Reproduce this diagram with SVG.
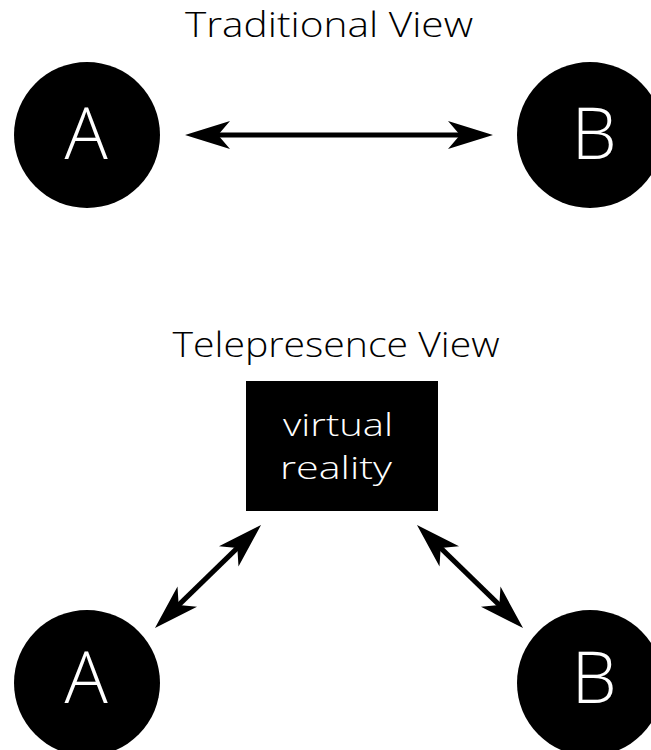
<svg xmlns="http://www.w3.org/2000/svg" width="651" height="750" viewBox="0 0 651 750">
<defs>
<style>
.node{fill:#000}
.lbl{fill:#fff;font-family:"Open Sans","Liberation Sans",sans-serif;font-weight:300;text-anchor:middle}
.title{fill:#000;font-family:"Open Sans","Liberation Sans",sans-serif;font-weight:300;font-size:34px;text-anchor:middle}
.conn{stroke:#000;stroke-width:5;fill:none}
</style>
<marker id="ah" markerUnits="userSpaceOnUse" markerWidth="50" markerHeight="32" viewBox="-16 -16 50 32" refX="0" refY="0" orient="auto-start-reverse">
<path d="M30,0 L-15,-14 L-3,0 L-15,14 Z" fill="#000"/>
</marker>
</defs>
<rect width="651" height="750" fill="#fff"/>
<text class="title" x="329" y="37" textLength="288" lengthAdjust="spacingAndGlyphs">Traditional View</text>
<text class="title" x="336" y="357" textLength="327" lengthAdjust="spacingAndGlyphs">Telepresence View</text>
<g id="connectors">
<line class="conn" x1="215" y1="135" x2="463" y2="135" marker-start="url(#ah)" marker-end="url(#ah)"/>
<line class="conn" x1="239.5" y1="545.9" x2="176.5" y2="607.1" marker-start="url(#ah)" marker-end="url(#ah)"/>
<line class="conn" x1="438.5" y1="545.9" x2="501.5" y2="607.1" marker-start="url(#ah)" marker-end="url(#ah)"/>
</g>
<g id="nodeA1"><circle class="node" cx="87" cy="135" r="73"/><text class="lbl" x="86" y="159" font-size="72">A</text></g>
<g id="nodeB1"><circle class="node" cx="590" cy="135" r="73"/><text class="lbl" x="594" y="159" font-size="72">B</text></g>
<g id="nodeVR"><rect class="node" x="246" y="381" width="192" height="130"/><text class="lbl" x="338" y="436" font-size="32" textLength="110" lengthAdjust="spacingAndGlyphs">virtual</text><text class="lbl" x="336" y="479" font-size="32" textLength="112" lengthAdjust="spacingAndGlyphs">reality</text></g>
<g id="nodeA2"><circle class="node" cx="87" cy="683" r="73"/><text class="lbl" x="86" y="703" font-size="72">A</text></g>
<g id="nodeB2"><circle class="node" cx="590" cy="683" r="73"/><text class="lbl" x="594" y="703" font-size="72">B</text></g>
</svg>
